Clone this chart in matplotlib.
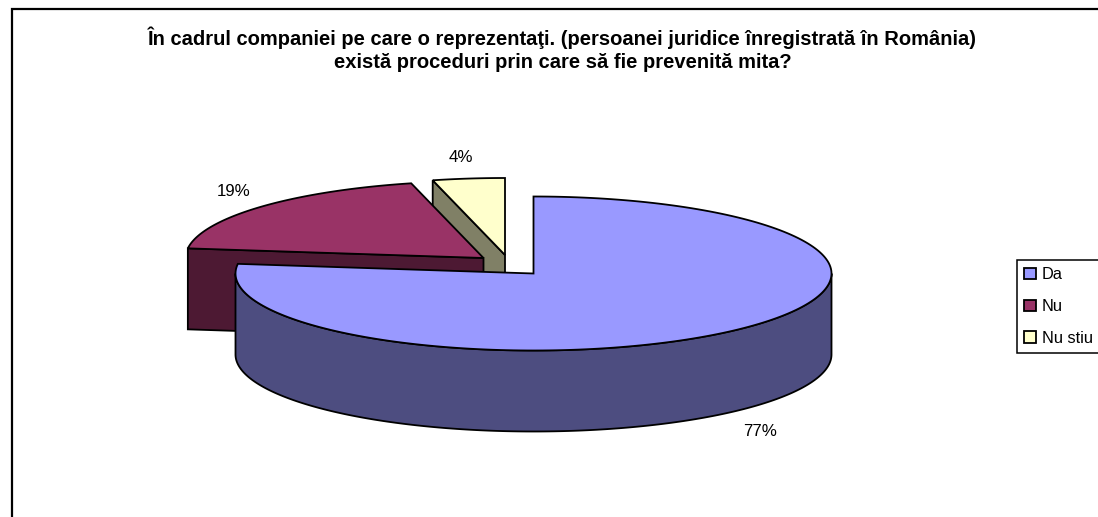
import numpy as np
import matplotlib
matplotlib.use('Agg')
from matplotlib import pyplot as plt
from matplotlib.patches import Polygon, Rectangle, Patch

plt.rcParams['font.family'] = ['Liberation Sans', 'DejaVu Sans']

# date
categories = ['Da', 'Nu', 'Nu stiu']
values = [77, 19.1, 3.9]
top_colors = ['#9999FF', '#993366', '#FFFFCC']
side_colors = ['#4D4D80', '#4D1933', '#808066']
title_lines = 'În cadrul companiei pe care o reprezentaţi. (persoanei juridice înregistrată în România)\nexistă proceduri prin care să fie prevenită mita?'

# geometry in pixels
rx = 298
ry = 77
depth = 81
apex = [(533.5, 273.5), (483.5, 258), (505, 255)]
label_pos = [(760, 431), (234, 191), (461, 157)]

fig = plt.figure(figsize=(10.98, 5.17), dpi=100)
ax = fig.add_axes([0, 0, 1, 1])
ax.set_xlim(0, 1098)
ax.set_ylim(517, 0)
ax.axis('off')

ax.add_patch(Rectangle((11.5, 9), 1200, 700, fc='white', ec='black', lw=1.6))


def rim(start, end, cx, cy):
    # angles go clockwise from 12 o'clock, as in the spreadsheet pie
    t = np.radians(np.linspace(start, end, 200))
    return np.column_stack([cx + rx * np.sin(t), cy - ry * np.cos(t)])


def extrude(pts):
    return np.vstack([pts, (pts + [0, depth])[::-1]])


fractions = np.array(values) / sum(values) * 360
starts = np.concatenate([[0], np.cumsum(fractions)[:-1]])
ends = np.cumsum(fractions)

# back slices first, Da goes over them
for i in [2, 1, 0]:
    cx, cy = apex[i]
    arc = rim(starts[i], ends[i], cx, cy)
    z = 3 + (2 - i)
    if i == 0:
        side = rim(90, 270, cx, cy)
    else:
        # the cut side that faces the viewer
        side = np.array([arc[0], [cx, cy]])
    ax.add_patch(Polygon(extrude(side), fc=side_colors[i], ec='black', lw=1.3, zorder=z, joinstyle='miter'))
    top = np.vstack([[cx, cy], arc])
    ax.add_patch(Polygon(top, fc=top_colors[i], ec='black', lw=1.3, zorder=z, joinstyle='miter'))

for v, (x, y) in zip(values, label_pos):
    ax.text(x, y, '%.0f%%' % v, ha='center', va='center', fontsize=12.2, color='black', zorder=10)

ax.text(562.5, 49.5, title_lines, ha='center', va='center', fontsize=14.5, fontweight='bold',
        linespacing=1.3, zorder=10)

handles = [Patch(fc=c, ec='black', lw=1.3) for c in top_colors]
leg = ax.legend(handles, categories, loc='upper left', bbox_to_anchor=(1017 / 1098, 1 - 260 / 517),
                fontsize=11.8, frameon=True, fancybox=False, edgecolor='black', framealpha=1,
                borderaxespad=0, handlelength=0.68, handleheight=0.68, handletextpad=0.4,
                labelspacing=1.02, borderpad=0.45)
leg.get_frame().set_linewidth(1.1)
leg.set_zorder(10)

fig.savefig('out.png', dpi=100)
